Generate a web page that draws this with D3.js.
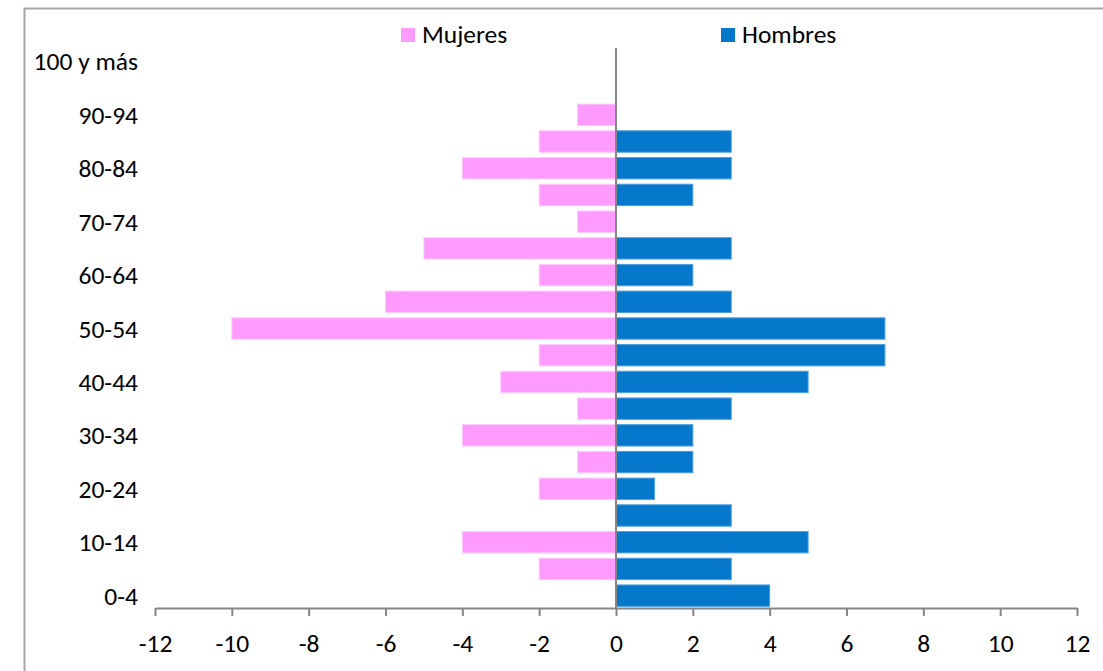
<!DOCTYPE html>
<html>
<head>
<meta charset="utf-8">
<script src="https://cdn.jsdelivr.net/npm/d3@7"></script>
<style>
  html, body { margin: 0; padding: 0; background: #fff; }
  svg { display: block; }
  text { font-family: Carlito, Calibri, Lato, "Open Sans", sans-serif; fill: #000; }
</style>
</head>
<body>
<svg id="chart" width="1103" height="671"></svg>
<script>
const categories = ["0-4","5-9","10-14","15-19","20-24","25-29","30-34","35-39","40-44","45-49",
  "50-54","55-59","60-64","65-69","70-74","75-79","80-84","85-89","90-94","95-99","100 y más"];
const mujeres = [0,-2,-4,0,-2,-1,-4,-1,-3,-2,-10,-6,-2,-5,-1,-2,-4,-2,-1,0,0];
const hombres = [4,3,5,3,1,2,2,3,5,7,7,3,2,3,0,2,3,3,0,0,0];
const xTicks = [-12,-10,-8,-6,-4,-2,0,2,4,6,8,10,12];
const shownLabels = ["0-4","10-14","20-24","30-34","40-44","50-54","60-64","70-74","80-84","90-94","100 y más"];
const seriesNames = ["Mujeres","Hombres"];
const colors = { Mujeres: "#FF9BFF", Hombres: "#0678CC" };
const strokes = { Mujeres: "#FFC8FF", Hombres: "#4C9EE0" };
const FS = "25.5px";

const svg = d3.select("#chart");

// outer border
svg.append("rect").attr("x", 24.5).attr("y", 8.5).attr("width", 1100).attr("height", 700)
  .attr("fill", "none").attr("stroke", "#a6a6a6").attr("stroke-width", 2);

const x = d3.scaleLinear().domain([-12, 12]).range([155, 1077]);
const y = d3.scaleBand().domain(categories).range([609, 48]).paddingInner(0.2).paddingOuter(0.1);

const rows = categories.map((c, i) => ({ c, m: mujeres[i], h: hombres[i] }));

svg.append("g").selectAll("rect").data(rows.filter(d => d.m !== 0)).join("rect")
  .attr("x", d => x(d.m)).attr("width", d => x(0) - x(d.m))
  .attr("y", d => y(d.c)).attr("height", y.bandwidth())
  .attr("fill", colors.Mujeres).attr("stroke", strokes.Mujeres).attr("stroke-width", 1);

svg.append("g").selectAll("rect").data(rows.filter(d => d.h !== 0)).join("rect")
  .attr("x", x(0)).attr("width", d => x(d.h) - x(0))
  .attr("y", d => y(d.c)).attr("height", y.bandwidth())
  .attr("fill", colors.Hombres).attr("stroke", strokes.Hombres).attr("stroke-width", 1);

// x axis
const xAxis = svg.append("g").attr("transform", "translate(0,608)")
  .call(d3.axisBottom(x).tickValues(xTicks).tickSize(8).tickSizeOuter(0).tickFormat(d3.format("d")));
xAxis.select(".domain").attr("stroke", "#868686").attr("stroke-width", 2);
xAxis.selectAll(".tick line").attr("stroke", "#868686").attr("stroke-width", 2);
xAxis.selectAll(".tick text").style("font-size", FS).attr("fill", "#000")
  .attr("y", 44).attr("dy", null)
  .text(d => d < 0 ? "-" + Math.abs(d) : d);

// vertical axis at 0
svg.append("line").attr("x1", x(0)).attr("x2", x(0)).attr("y1", 48).attr("y2", 609)
  .attr("stroke", "#868686").attr("stroke-width", 2);

// category labels
svg.append("g").selectAll("text").data(shownLabels).join("text")
  .attr("x", 138).attr("y", d => y(d) + y.bandwidth() / 2 + 9)
  .attr("text-anchor", "end")
  .style("font-size", FS).text(d => d);

// legend
const legendPos = { Mujeres: 401, Hombres: 721 };
const lg = svg.append("g");
seriesNames.forEach(n => {
  lg.append("rect").attr("x", legendPos[n]).attr("y", 28).attr("width", 14).attr("height", 14)
    .attr("fill", colors[n]);
  lg.append("text").attr("x", legendPos[n] + 21).attr("y", 43)
    .style("font-size", FS).text(n);
});
</script>
</body>
</html>
